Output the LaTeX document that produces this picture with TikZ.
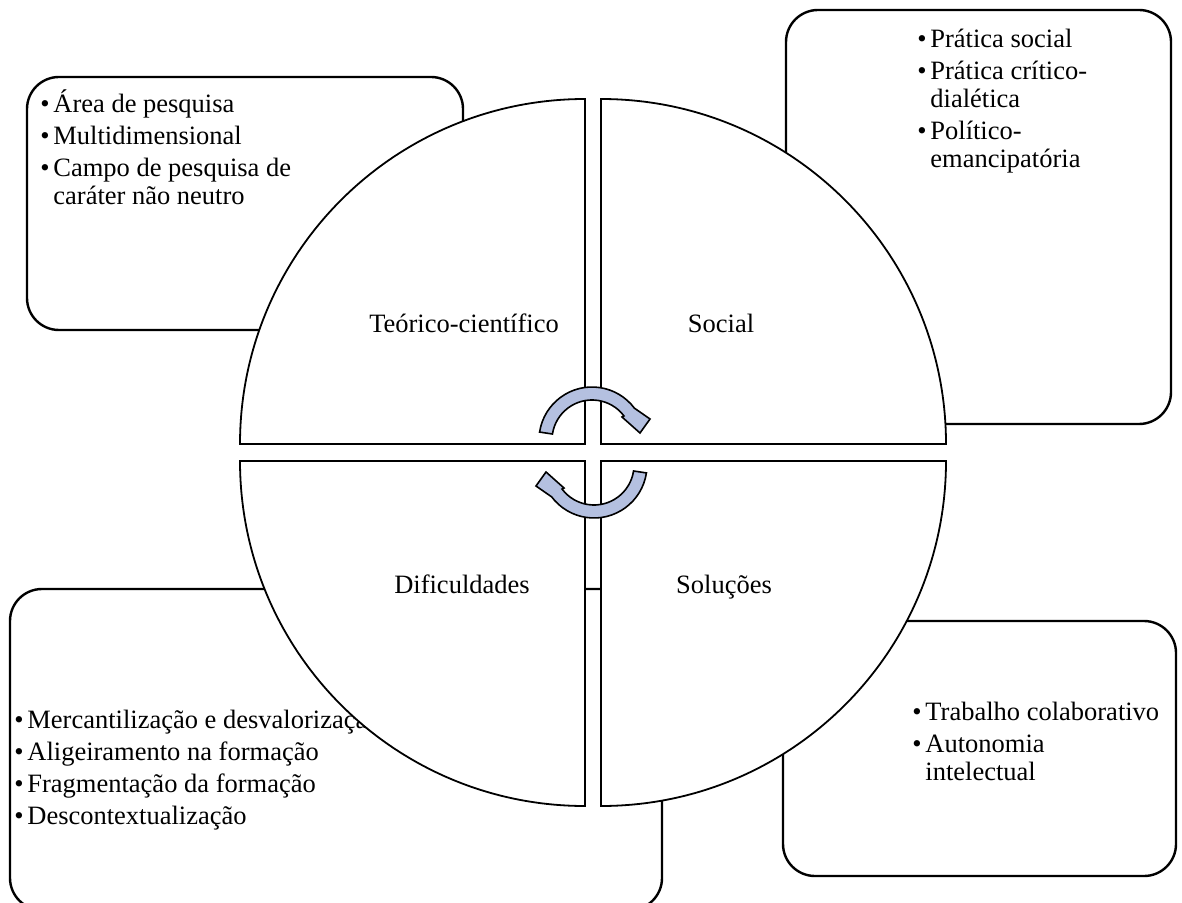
\documentclass[tikz,border=0pt]{standalone}
\usepackage{fontspec}
\setmainfont{Liberation Serif}
\usepackage{xcolor}
\usepackage{tikz}
\usetikzlibrary{positioning, calc}

\definecolor{arrowblue}{RGB}{180,192,224}
\newlength{\bulletwd}
\setlength{\bulletwd}{6.5pt}
\newcommand{\nl}{\hfil\break}
\newcommand{\bitem}[1]{\par\noindent\hangindent=\bulletwd\hangafter=1 \makebox[\bulletwd][l]{\textbullet}#1}
\newcommand{\blist}[1]{\parbox[t]{300pt}{\setlength{\parskip}{2pt}\raggedright #1}}

\begin{document}
\begin{tikzpicture}[x=0.5pt, y=0.5pt,
  panel/.style={draw, line width=1.2pt, rounded corners=16pt},
  quad/.style={draw, fill=white, line width=0.9pt},
  listtext/.style={inner sep=0pt, anchor=base west, font=\fontsize{13.25pt}{14pt}\selectfont},
  quadlabel/.style={inner sep=0pt, anchor=base, font=\fontsize{13.25pt}{14pt}\selectfont},
  cyclearrow/.style={draw, fill=arrowblue, line width=0.8pt}]

\useasboundingbox (0,0) rectangle (1182,-903);

% Outer boxes
\draw[panel] (27,-77) rectangle (463,-330);
\draw[panel] (786,-10) rectangle (1171,-424);
\draw[panel] (10,-589) rectangle (662,-910);
\draw[panel] (783,-621) rectangle (1176,-876);

% Lists
\node[listtext] (teorico list) at (40,-113) {\blist{\bitem{Área de pesquisa}\bitem{Multidimensional}\bitem{Campo de pesquisa de\nl caráter não neutro}}};
\node[listtext] (social list) at (917,-48) {\blist{\bitem{Prática social}\bitem{Prática crítico-\nl dialética}\bitem{Político-\nl emancipatória}}};
\node[listtext] (dificuldades list) at (14,-728) {\blist{\bitem{Mercantilização e desvalorização}\bitem{Aligeiramento na formação}\bitem{Fragmentação da formação}\bitem{Descontextualização}}};
\node[listtext] (solucoes list) at (912,-720) {\blist{\bitem{Trabalho colaborativo}\bitem{Autonomia\nl intelectual}}};

% Quadrants
\draw[quad] (585,-444) -- (240,-444) arc[start angle=180, end angle=90, radius=172.5pt] -- cycle;
\draw[quad] (601,-444) -- (601,-99) arc[start angle=90, end angle=0, radius=172.5pt] -- cycle;
\draw[quad] (585,-461) -- (585,-806) arc[start angle=270, end angle=180, radius=172.5pt] -- cycle;
\draw[quad] (601,-461) -- (946,-461) arc[start angle=0, end angle=-90, radius=172.5pt] -- cycle;

% Quadrant labels
\foreach \x/\y/\lbl/\nm in {464/-333/Teórico-científico/teorico, 721/-333/Social/social, 462/-593/Dificuldades/dificuldades, 724/-593/Soluções/solucoes}
  \node[quadlabel] (\nm) at (\x,\y) {\lbl};

% Cycle arrows
\foreach \cx/\cy/\rot in {592/-440/0, 594/-465/180} {
  \begin{scope}[shift={(\cx,\cy)}, rotate=\rot]
    \draw[cyclearrow] (171.4:53) arc[start angle=171.4, end angle=37, radius=26.5pt]
      -- (19.9:61.7) -- (8.3:48.5) -- (37.5:37.8) -- (37:40)
      arc[start angle=37, end angle=171.4, radius=20pt] -- cycle;
  \end{scope}
}
\end{tikzpicture}
\end{document}
